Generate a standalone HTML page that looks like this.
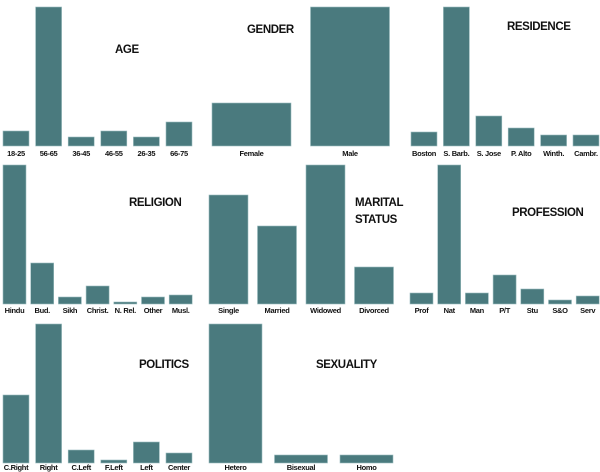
<!DOCTYPE html>
<html><head><meta charset="utf-8"><style>
html,body{margin:0;padding:0;background:#fff;}
svg{display:block;}
.lbl{font-family:"Liberation Sans",sans-serif;font-size:7.5px;font-weight:bold;fill:#111;text-anchor:middle;letter-spacing:-0.3px;}
.ttl{font-family:"Liberation Sans",sans-serif;font-size:11.5px;font-weight:bold;fill:#111;letter-spacing:-0.4px;}
</style></head><body>
<svg id="chart" width="600" height="472" viewBox="0 0 600 472"></svg>
<script>
const ageCats=["18-25","56-65","36-45","46-55","26-35","66-75"];
const ageVals=[15,139,9,15,9,24];
const genderCats=["Female","Male"];
const genderVals=[43,139];
const residenceCats=["Boston","S. Barb.","S. Jose","P. Alto","Winth.","Cambr."];
const residenceVals=[14,139,30,18,11,11];
const religionCats=["Hindu","Bud.","Sikh","Christ.","N. Rel.","Other","Musl."];
const religionVals=[139,41,7,18,2,7,9];
const maritalCats=["Single","Married","Widowed","Divorced"];
const maritalVals=[109,78,139,37];
const professionCats=["Prof","Nat","Man","P/T","Stu","S&O","Serv"];
const professionVals=[11,139,11,29,15,4,8];
const politicsCats=["C.Right","Right","C.Left","F.Left","Left","Center"];
const politicsVals=[68,139,13,3,21,10];
const sexualityCats=["Hetero","Bisexual","Homo"];
const sexualityVals=[139,8,8];

const NS="http://www.w3.org/2000/svg";
const svg=document.getElementById('chart');
function el(tag,attrs){const e=document.createElementNS(NS,tag);for(const k in attrs)e.setAttribute(k,attrs[k]);return e;}

function panel(name,cats,vals,x0,step,bw,base,lblOff,title){
  const g=el('g',{});
  
  
  svg.appendChild(g);
  const max=Math.max(...vals);
  const yScale=v=>base-v/max*139;
  const xScale=i=>x0+i*step;
  cats.forEach((c,i)=>{
    const x=xScale(i),y=yScale(vals[i]);
    const r=el('rect',{x:x,y:y,width:bw,height:base-y,fill:'#4a7a7e',stroke:'#9bbcbe','stroke-width':0.6});
    
    
    g.appendChild(r);
    const t=el('text',{x:x+bw/2,y:base+lblOff,class:'lbl'});
    t.textContent=c;
    
    
    g.appendChild(t);
  });
  title.forEach((tl,j)=>{
    const t=el('text',{x:tl[1],y:tl[2],class:'ttl'});
    t.textContent=tl[0];
    
    
    g.appendChild(t);
  });
}
panel('age',ageCats,ageVals,3,32.6,26,146,10,[["AGE",115,53]]);
panel('gender',genderCats,genderVals,212,98.5,79,146,10,[["GENDER",247,33]]);
panel('residence',residenceCats,residenceVals,411,32.4,26,146,10,[["RESIDENCE",507,30]]);
panel('religion',religionCats,religionVals,3,27.7,23,304,9,[["RELIGION",129,206]]);
panel('marital',maritalCats,maritalVals,209,48.5,39,304,9,[["MARITAL",355,206],["STATUS",355,223]]);
panel('profession',professionCats,professionVals,410,27.7,23,304,9,[["PROFESSION",512,216]]);
panel('politics',politicsCats,politicsVals,3,32.6,26,463,7,[["POLITICS",139,368]]);
panel('sexuality',sexualityCats,sexualityVals,209,65.5,53,463,7,[["SEXUALITY",316,368]]);
</script>
</body></html>
